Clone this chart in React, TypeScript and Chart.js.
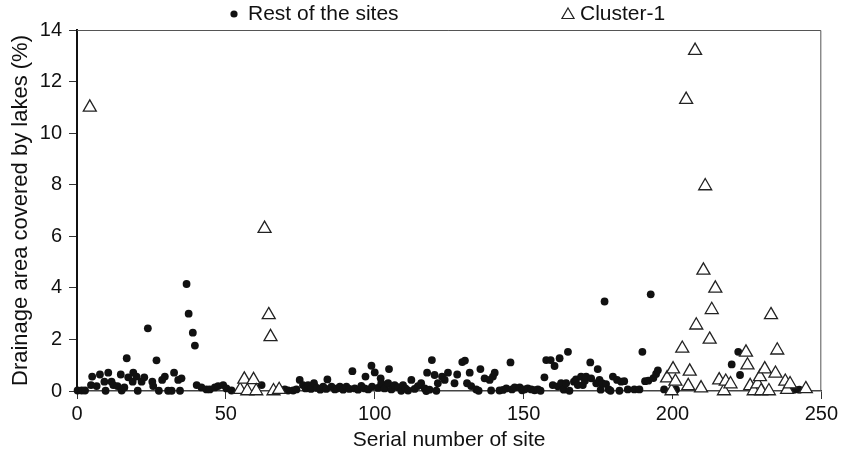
import React, { useEffect, useRef } from "react";
import { Chart, registerables } from "chart.js";

Chart.register(...registerables);

const restSites = [
  0.2, 1.6, 2.7, 4.7, 5.1, 6.6, 7.7, 9.2, 9.6, 10.5, 11.6, 12.2, 13.6, 14.7, 15.0, 15.9, 16.7, 17.2, 18.7, 18.9,
  20.0, 20.4, 21.7, 22.6, 23.8, 25.3, 25.6, 26.7, 27.5, 28.6, 29.5, 30.6, 31.8, 32.6, 34.0, 34.6, 35.1, 36.8, 37.5, 38.9,
  39.6, 40.2, 41.8, 43.5, 44.6, 46.3, 47.4, 49.1, 50.2, 51.9,
  62.0, 69.8, 70.9, 72.6, 73.7, 74.8, 75.9, 76.8, 77.6, 78.6, 79.6, 80.6, 81.7, 82.7, 83.7, 84.1, 85.5, 86.6, 87.4, 88.3,
  89.4, 90.5, 91.5, 92.5, 93.3, 94.4, 95.5, 96.6, 96.9, 97.8, 98.9, 99.1, 100.0, 101.1, 102.0, 102.2, 103.3, 104.5, 104.8, 105.6,
  106.7, 107.8, 108.9, 109.5, 110.3, 111.2, 112.3, 113.4, 114.5, 115.6, 116.8, 117.3, 117.6, 118.4, 119.2, 120.1, 120.7, 121.2,
  122.6, 123.5, 124.6, 126.8, 127.7, 129.4, 130.3, 131.0, 131.9, 132.4, 134.1, 134.9, 135.5, 136.9, 138.6, 139.1, 139.7, 140.3,
  141.9, 143.1, 144.2, 145.6, 146.1, 147.0, 148.7, 149.5, 150.3, 151.4, 152.6, 153.7, 154.8, 155.7, 157.0, 157.6, 159.1, 159.8,
  160.4, 161.5, 162.1, 162.6, 163.5, 164.3, 164.9, 165.4, 166.9, 167.6, 168.2, 169.3, 169.9, 170.6, 171.0, 172.7, 172.4, 174.4,
  174.9, 175.5, 175.9, 176.4, 177.2, 177.7, 178.6, 179.2, 180.0, 181.4, 182.2, 182.8,
  183.8, 185.0, 187.2, 188.9, 189.9, 190.8, 191.9, 192.7, 193.6, 194.5, 195.1, 197.2, 201.2,
  219.9, 222.1, 222.7, 240.9, 242.6
];
const restValues = [
  0.02, 0.02, 0.02, 0.23, 0.56, 0.19, 0.64, 0.36, 0.01, 0.71, 0.36, 0.23, 0.19, 0.64, 0.02, 0.14, 1.27, 0.53, 0.36, 0.71,
  0.56, 0.01, 0.36, 0.53, 2.43, 0.36, 0.19, 1.19, 0.01, 0.43, 0.56, 0.01, 0.01, 0.71, 0.43, 0.01, 0.49, 4.15, 3.0, 2.26,
  1.76, 0.23, 0.14, 0.06, 0.06, 0.14, 0.19, 0.23, 0.10, 0.02,
  0.23, 0.06, 0.02, 0.02, 0.06, 0.43, 0.23, 0.10, 0.23, 0.08, 0.30, 0.12, 0.05, 0.17, 0.08, 0.45, 0.17, 0.06, 0.10, 0.17,
  0.05, 0.17, 0.08, 0.77, 0.10, 0.05, 0.20, 0.10, 0.56, 0.06, 0.98, 0.17, 0.72, 0.12, 0.49, 0.30, 0.10, 0.30, 0.85, 0.06,
  0.23, 0.15, 0.01, 0.23, 0.10, 0.02, 0.43, 0.08, 0.19, 0.30, 0.10, 0.00, 0.71, 0.05, 1.20, 0.62, 0.01, 0.30,
  0.56, 0.43, 0.71, 0.30, 0.64, 1.12, 1.18, 0.30, 0.71, 0.19, 0.06, 0.01, 0.85, 0.49, 0.43, 0.02, 0.56, 0.71,
  0.02, 0.04, 0.10, 1.11, 0.06, 0.14, 0.14, 0.03, 0.06, 0.10, 0.06, 0.03, 0.06, 0.01, 0.53, 1.20, 1.20, 0.23,
  0.97, 0.18, 1.27, 0.30, 0.05, 0.30, 1.52, 0.01, 0.36, 0.45, 0.23, 0.56, 0.23, 0.40, 0.56, 0.49, 1.11, 0.30,
  0.85, 0.43, 0.05, 0.30, 3.47, 0.27, 0.06, 0.01, 0.56, 0.43, 0.01, 0.36,
  0.38, 0.06, 0.06, 0.06, 1.52, 0.38, 0.40, 3.75, 0.50, 0.66, 0.80, 0.06, 0.06,
  1.03, 1.52, 0.62, 0.05, 0.05
];

const clusterSites = [
  4.3, 54.8, 56.2, 57.2, 59.3, 60.2, 63.0, 64.4, 65.0, 66.0, 67.9,
  198.2, 199.7, 200.2, 201.0, 203.3, 204.6, 205.3, 205.8, 207.6, 208.0, 209.6, 210.4, 211.0, 212.5, 213.2, 214.4,
  215.7, 217.3, 217.9, 219.5, 224.7, 225.2, 226.1, 227.3, 228.6, 229.4, 229.8, 231.0, 232.4, 233.1, 234.6, 235.2,
  237.9, 238.5, 239.5, 244.8
];
const clusterValues = [
  11.0, 0.05, 0.45, 0.0, 0.43, 0.0, 6.3, 2.95, 2.1, 0.0, 0.05,
  0.5, 0.0, 0.85, 0.37, 1.65, 11.3, 0.2, 0.76, 13.2, 2.55, 0.11, 4.68, 7.95, 2.0, 3.15, 3.98,
  0.42, 0.0, 0.37, 0.27, 1.5, 1.0, 0.2, 0.0, 0.27, 0.55, 0.0, 0.85, 0.0, 2.95, 0.68, 1.58,
  0.37, 0.05, 0.27, 0.08
];

const seriesLabels = ["Rest of the sites", "Cluster-1"];
const xTitle = "Serial number of site";
const yTitle = "Drainage area covered by lakes (%)";
const xMin = 0, xMax = 250, xStep = 50;
const yMin = 0, yMax = 14, yStep = 2;

const FONT = '"Liberation Sans", Arial, Helvetica, sans-serif';

const framePlugin = {
  id: "frame",
  beforeDatasetsDraw(chart: any) {
    const { ctx, chartArea } = chart;
    ctx.save();
    ctx.strokeStyle = "#555";
    ctx.lineWidth = 1;
    ctx.beginPath();
    ctx.moveTo(chartArea.left, chartArea.top + 0.5);
    ctx.lineTo(chartArea.right - 0.5, chartArea.top + 0.5);
    ctx.lineTo(chartArea.right - 0.5, chartArea.bottom);
    ctx.stroke();
    ctx.restore();
  },
};

const legendPlugin = {
  id: "customLegend",
  afterDraw(chart: any) {
    const { ctx, chartArea } = chart;
    const labels = chart.data.datasets.map((d: any) => d.label);
    ctx.save();
    ctx.font = `21px ${FONT}`;
    ctx.fillStyle = "#111";
    ctx.textBaseline = "alphabetic";
    ctx.textAlign = "left";
    const cy = 14;
    const base = 19.5;
    const x1 = chartArea.left + 157;
    ctx.beginPath();
    ctx.arc(x1, cy, 3.6, 0, Math.PI * 2);
    ctx.fill();
    ctx.fillText(labels[0], x1 + 14, base);
    const x2 = chartArea.left + 491;
    const r = 7;
    ctx.beginPath();
    for (let k = 0; k < 3; k++) {
      const a = (k * 2 * Math.PI) / 3;
      const px = x2 + Math.sin(a) * r;
      const py = cy + 1 - Math.cos(a) * r;
      if (k === 0) ctx.moveTo(px, py);
      else ctx.lineTo(px, py);
    }
    ctx.closePath();
    ctx.strokeStyle = "#222";
    ctx.lineWidth = 1.2;
    ctx.stroke();
    ctx.fillText(labels[1], x2 + 12, base);
    ctx.restore();
  },
};

export default function App() {
  const ref = useRef<HTMLCanvasElement | null>(null);

  useEffect(() => {
    if (!ref.current) return;
    const rest = restSites.map((x, i) => ({ x, y: restValues[i] }));
    const cluster = clusterSites.map((x, i) => ({ x, y: clusterValues[i] }));
    const chart = new Chart(ref.current, {
      type: "scatter",
      data: {
        datasets: [
          {
            label: seriesLabels[0],
            data: rest,
            pointStyle: "circle",
            pointRadius: 3.9,
            pointHoverRadius: 3.9,
            backgroundColor: "#111",
            borderColor: "#111",
            borderWidth: 0,
            clip: false as any,
            order: 1,
          },
          {
            label: seriesLabels[1],
            data: cluster,
            pointStyle: "triangle",
            pointRadius: 7.5,
            pointHoverRadius: 7.5,
            backgroundColor: "#fff",
            borderColor: "#222",
            borderWidth: 1.3,
            clip: false as any,
            order: 0,
          },
        ],
      },
      options: {
        animation: false,
        responsive: true,
        maintainAspectRatio: false,
        layout: { padding: { top: 30, right: 19, left: 0, bottom: 0 } },
        plugins: {
          legend: { display: false },
          tooltip: { enabled: false },
        },
        events: [],
        scales: {
          x: {
            type: "linear",
            min: xMin,
            max: xMax,
            ticks: {
              stepSize: xStep,
              color: "#111",
              font: { family: FONT, size: 20 },
              padding: 3,
              maxRotation: 0,
            },
            grid: {
              display: true,
              drawOnChartArea: false,
              drawTicks: true,
              tickLength: 8,
              color: "#333",
              lineWidth: 1,
            },
            border: { display: true, color: "#444", width: 1.5 },
            title: {
              display: true,
              text: xTitle,
              color: "#111",
              font: { family: FONT, size: 21 },
              padding: { top: 0, bottom: 6 },
            },
            afterFit(scale: any) {
              scale.height = 68;
            },
          },
          y: {
            type: "linear",
            min: yMin,
            max: yMax,
            ticks: {
              stepSize: yStep,
              color: "#111",
              font: { family: FONT, size: 20 },
              padding: 7,
            },
            grid: {
              display: true,
              drawOnChartArea: false,
              drawTicks: true,
              tickLength: 8,
              color: "#333",
              lineWidth: 1,
            },
            border: { display: true, color: "#111", width: 2 },
            title: {
              display: true,
              text: yTitle,
              color: "#111",
              font: { family: FONT, size: 22 },
              padding: { top: 8, bottom: 0 },
            },
            afterFit(scale: any) {
              scale.width = 77;
            },
          },
        },
      },
      plugins: [framePlugin, legendPlugin],
    });
    return () => chart.destroy();
  }, []);

  return (
    <div style={{ position: "absolute", left: 0, top: 0, width: 841, height: 459, background: "#fff" }}>
      <canvas ref={ref} />
    </div>
  );
}
